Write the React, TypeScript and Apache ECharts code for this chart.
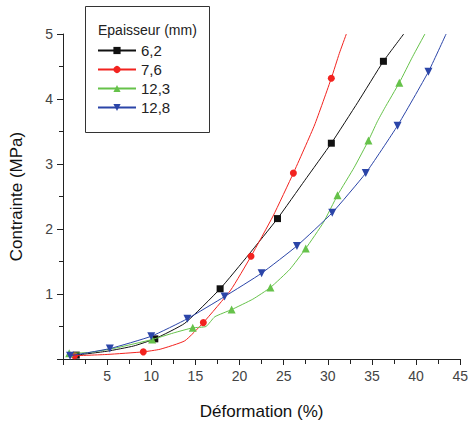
import React, { useEffect, useRef } from "react";
import * as echarts from "echarts";

// Déformation (%) / Contrainte (MPa); mk = 1 where a marker is drawn
const seriesNames = ["6,2", "7,6", "12,3", "12,8"];

const x62 = [1.5, 5, 8, 10.4, 13.8, 17.8, 21, 24.3, 27.4, 30.4, 33.4, 36.3, 38.6];
const y62 = [0.06, 0.12, 0.2, 0.31, 0.55, 1.08, 1.6, 2.16, 2.75, 3.32, 3.95, 4.58, 5.0];
const mk62 = [1, 0, 0, 1, 0, 1, 0, 1, 0, 1, 0, 1, 0];

const x76 = [1.3, 5, 9.1, 11, 13.8, 15.9, 19, 21.3, 23.8, 26.1, 28.5, 30.4, 31.3, 32.1];
const y76 = [0.05, 0.07, 0.11, 0.15, 0.28, 0.56, 1.06, 1.58, 2.2, 2.86, 3.6, 4.32, 4.7, 5.0];
const mk76 = [1, 0, 1, 0, 0, 1, 0, 1, 0, 1, 0, 1, 0, 0];

const x123 = [0.7, 3, 6, 10.1, 12.5, 14.7, 16.2, 17.2, 19.1, 21.5, 23.5, 25.7, 27.5, 29.5, 31.1, 33, 34.6, 35.6, 36.4, 38.1, 39.6, 41.0];
const y123 = [0.09, 0.1, 0.17, 0.3, 0.4, 0.48, 0.5, 0.65, 0.76, 0.92, 1.1, 1.38, 1.7, 2.1, 2.52, 2.95, 3.36, 3.65, 3.85, 4.25, 4.65, 5.0];
const mk123 = [1, 0, 0, 1, 0, 1, 0, 0, 1, 0, 1, 0, 1, 0, 1, 0, 1, 0, 0, 1, 0, 0];

const x128 = [0.8, 5.3, 10.0, 14.1, 18.3, 22.5, 26.5, 30.5, 34.3, 37.9, 41.4, 43.4];
const y128 = [0.05, 0.16, 0.35, 0.62, 0.96, 1.32, 1.74, 2.25, 2.86, 3.59, 4.42, 5.0];
const mk128 = [1, 1, 1, 1, 1, 1, 1, 1, 1, 1, 1, 0];

const xTicks = [5, 10, 15, 20, 25, 30, 35, 40, 45];
const yTicks = [1, 2, 3, 4, 5];

const colors = ["#111111", "#f2231f", "#66c24a", "#2b45a8"];
const symbols = ["rect", "circle", "triangle", "triangle"];
const rotates = [0, 0, 0, 180];
const sizes = [7, 7, 8, 8];

const allX = [x62, x76, x123, x128];
const allY = [y62, y76, y123, y128];
const allM = [mk62, mk76, mk123, mk128];

const FONT = "Liberation Sans";

export default function App() {
  const ref = useRef<HTMLDivElement>(null);
  useEffect(() => {
    document.body.style.margin = "0";
    if (!ref.current) return;
    const chart = echarts.init(ref.current, undefined, { renderer: "svg" });
    const series = seriesNames.map((name, i) => ({
      name,
      type: "line",
      smooth: 0.15,
      color: colors[i],
      symbol: symbols[i],
      symbolRotate: rotates[i],
      symbolSize: sizes[i],
      showSymbol: true,
      lineStyle: { width: 1, color: colors[i] },
      itemStyle: { color: colors[i] },
      z: 2 + i,
      data: allX[i].map((x, j) =>
        allM[i][j] ? { value: [x, allY[i][j]] } : { value: [x, allY[i][j]], symbol: "none" }
      ),
    }));
    chart.setOption({
      animation: false,
      textStyle: { fontFamily: FONT },
      grid: { left: 60, right: 5, top: 34, bottom: 61, containLabel: false },
      xAxis: {
        type: "value",
        min: 0,
        max: 45,
        interval: 5,
        name: "Déformation (%)",
        nameLocation: "middle",
        nameGap: 44,
        nameTextStyle: { fontSize: 17, color: "#111", fontFamily: FONT },
        axisLine: { lineStyle: { color: "#222", width: 1 } },
        axisTick: { show: true, length: 6, lineStyle: { color: "#222" } },
        minorTick: { show: true, splitNumber: 2, length: 5, lineStyle: { color: "#222" } },
        splitLine: { show: false },
        axisLabel: {
          fontSize: 14,
          color: "#444",
          margin: 10,
          formatter: (v: number) => (xTicks.includes(v) ? String(v) : ""),
        },
      },
      yAxis: {
        type: "value",
        min: 0,
        max: 5,
        interval: 1,
        name: "Contrainte (MPa)",
        nameLocation: "middle",
        nameGap: 38,
        nameTextStyle: { fontSize: 17, color: "#111", fontFamily: FONT },
        axisLine: { show: true, lineStyle: { color: "#222", width: 1 } },
        axisTick: { show: true, length: 6, lineStyle: { color: "#222" } },
        minorTick: { show: true, splitNumber: 2, length: 4, lineStyle: { color: "#222" } },
        splitLine: { show: false },
        axisLabel: {
          fontSize: 14,
          color: "#444",
          margin: 10,
          formatter: (v: number) => (yTicks.includes(v) ? String(v) : ""),
        },
      },
      legend: {
        data: seriesNames,
        orient: "vertical",
        left: 97,
        top: 43,
        padding: 0,
        itemWidth: 38,
        itemHeight: 9,
        itemGap: 4,
        textStyle: { fontSize: 15, color: "#222", fontFamily: FONT, padding: [0, 0, 0, 0] },
      },
      graphic: [
        {
          type: "rect",
          shape: { x: 85.5, y: 6.5, width: 124, height: 126 },
          style: { fill: "#fff", stroke: "#333", lineWidth: 1 },
          z: 0,
          silent: true,
        },
        {
          type: "text",
          x: 98,
          y: 30,
          style: {
            text: "Epaisseur (mm)",
            fontSize: 14,
            fontFamily: FONT,
            fill: "#222",
            verticalAlign: "middle",
          },
          z: 1,
        },
      ],
      series,
    });
    return () => chart.dispose();
  }, []);
  return <div ref={ref} style={{ width: 471, height: 425 }} />;
}
